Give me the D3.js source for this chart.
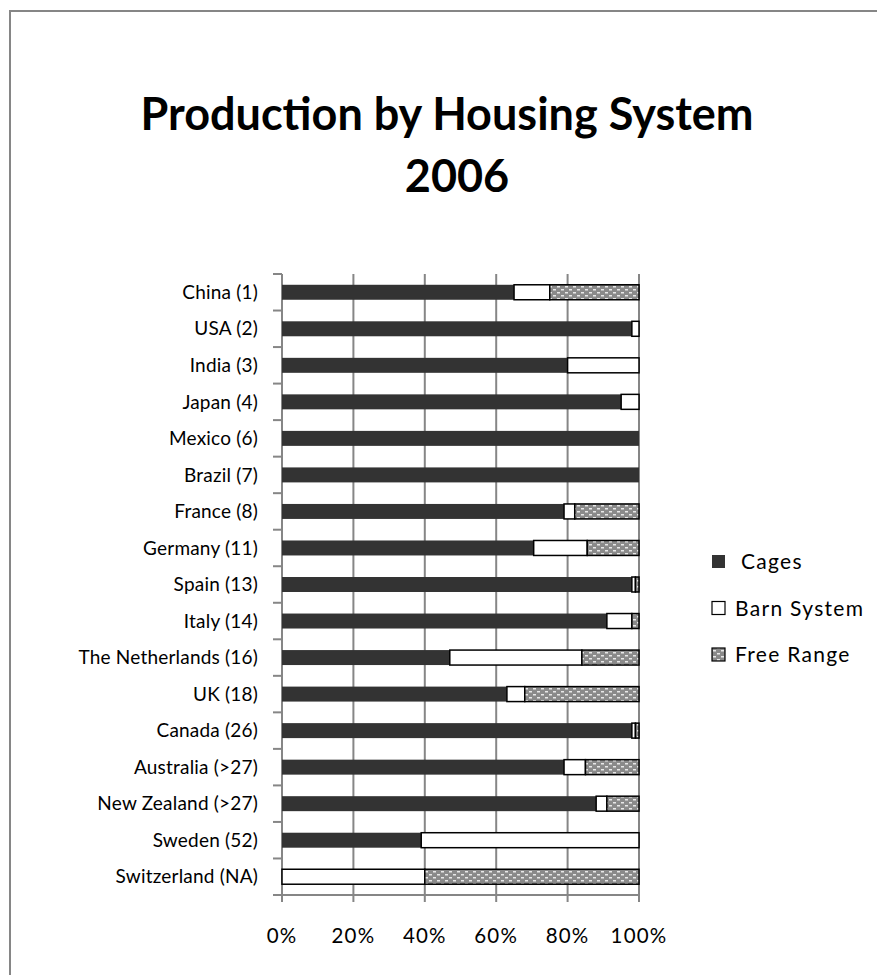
<!DOCTYPE html>
<html>
<head>
<meta charset="utf-8">
<script src="https://cdn.jsdelivr.net/npm/d3@7"></script>
<style>
  body { margin: 0; background: #fff; }
  svg { display: block; font-family: Lato, "Open Sans", sans-serif; }
  .cat { font-size: 19px; letter-spacing: 0.2px; }
  .tick { font-size: 20.5px; letter-spacing: 1.2px; }
  .leg { font-size: 21px; letter-spacing: 1.3px; }
</style>
</head>
<body>
<svg id="chart" width="877" height="975"></svg>
<script>
// data (percent of production)
var countries = ["China (1)", "USA (2)", "India (3)", "Japan (4)", "Mexico (6)", "Brazil (7)",
  "France (8)", "Germany (11)", "Spain (13)", "Italy (14)", "The Netherlands (16)", "UK (18)",
  "Canada (26)", "Australia (>27)", "New Zealand (>27)", "Sweden (52)", "Switzerland (NA)"];
var cages     = [65, 98, 80, 95, 100, 100, 79, 70.5, 98, 91, 47, 63, 98, 79, 88, 39, 0];
var barn      = [10, 2, 20, 5, 0, 0, 3, 15, 1, 7, 37, 5, 1, 6, 3, 61, 40];
var freeRange = [25, 0, 0, 0, 0, 0, 18, 14.5, 1, 2, 16, 32, 1, 15, 9, 0, 60];
var seriesNames = ["Cages", "Barn System", "Free Range"];
var xTicks = [0, 0.2, 0.4, 0.6, 0.8, 1];

var svg = d3.select("#chart");

// free range hatch pattern
var defs = svg.append("defs");
var pat = defs.append("pattern").attr("id", "dots")
  .attr("patternUnits", "userSpaceOnUse").attr("width", 8).attr("height", 6);
pat.append("rect").attr("width", 8).attr("height", 6).attr("fill", "#8a8a8a");
pat.append("rect").attr("x", 1).attr("y", 1).attr("width", 3).attr("height", 1.5).attr("fill", "#e8e8e8");
pat.append("rect").attr("x", 5).attr("y", 4).attr("width", 3).attr("height", 1.5).attr("fill", "#e8e8e8");

// outer chart border (only left/top visible)
svg.append("rect").attr("x", 10).attr("y", 11).attr("width", 1000).attr("height", 1100)
  .attr("fill", "none").attr("stroke", "#868686").attr("stroke-width", 2);

// title
svg.append("text").attr("x", 447).attr("y", 130).attr("text-anchor", "middle")
  .attr("font-size", 45).attr("font-weight", "bold").text("Production by Housing System");
svg.append("text").attr("x", 457).attr("y", 192).attr("text-anchor", "middle")
  .attr("font-size", 45).attr("font-weight", "bold").text("2006");

var pLeft = 282, pRight = 639, pTop = 274, pBottom = 895;

var x = d3.scaleLinear().domain([0, 1]).range([pLeft, pRight]);
var y = d3.scaleBand().domain(countries).range([pTop, pBottom]).paddingInner(0.59).paddingOuter(0.295);

// gridlines
svg.append("g").selectAll("line").data(xTicks).enter().append("line")
  .attr("x1", function(d) { return x(d); }).attr("x2", function(d) { return x(d); })
  .attr("y1", pTop).attr("y2", pBottom + 7)
  .attr("stroke", "#868686").attr("stroke-width", 2);

// x axis line + labels
svg.append("line").attr("x1", pLeft - 9).attr("x2", pRight).attr("y1", pBottom).attr("y2", pBottom)
  .attr("stroke", "#868686").attr("stroke-width", 2);
svg.append("g").selectAll("text").data(xTicks).enter().append("text")
  .attr("class", "tick")
  .attr("x", function(d) { return x(d); }).attr("y", 943)
  .attr("text-anchor", "middle")
  .text(function(d) { return d3.format(".0%")(d); });

// category axis ticks (between bands)
var step = y.step();
svg.append("g").selectAll("line").data(d3.range(countries.length + 1)).enter().append("line")
  .attr("x1", pLeft - 9).attr("x2", pLeft)
  .attr("y1", function(i) { return pTop + i * step; }).attr("y2", function(i) { return pTop + i * step; })
  .attr("stroke", "#868686").attr("stroke-width", 2);

svg.append("g").selectAll("text").data(countries).enter().append("text")
  .attr("class", "cat")
  .attr("x", 258).attr("y", function(d) { return y(d) + y.bandwidth() / 2; })
  .attr("dy", "0.35em").attr("text-anchor", "end")
  .text(function(d) { return d; });

// stacked bars
var rows = countries.map(function(c, i) {
  return { country: c, "Cages": cages[i] / 100, "Barn System": barn[i] / 100, "Free Range": freeRange[i] / 100 };
});
var stacked = d3.stack().keys(seriesNames)(rows);
var fills = { "Cages": "#333333", "Barn System": "#ffffff", "Free Range": "url(#dots)" };

svg.append("g").selectAll("g").data(stacked).enter().append("g")
  .attr("fill", function(s) { return fills[s.key]; })
  .attr("stroke", function(s) { return s.key === "Cages" ? "none" : "#000"; })
  .attr("stroke-width", 1.5)
  .selectAll("rect")
  .data(function(s) { return s.filter(function(d) { return d[1] - d[0] > 0; }); })
  .enter().append("rect")
  .attr("x", function(d) { return x(d[0]); })
  .attr("y", function(d) { return y(d.data.country); })
  .attr("width", function(d) { return x(d[1]) - x(d[0]); })
  .attr("height", y.bandwidth());

// legend
var legend = svg.append("g").selectAll("g").data(seriesNames).enter().append("g")
  .attr("transform", function(d, i) { return "translate(712," + (562 + i * 46.5) + ")"; });
legend.append("rect").attr("x", 0).attr("y", -7).attr("width", 13).attr("height", 13)
  .attr("fill", function(d) { return fills[d]; })
  .attr("stroke", function(d) { return d === "Cages" ? "none" : "#000"; })
  .attr("stroke-width", 1.2);
legend.append("text").attr("class", "leg")
  .attr("x", function(d, i) { return i === 0 ? 29 : 23; }).attr("y", 0)
  .attr("dy", "0.35em").text(function(d) { return d; });
</script>
</body>
</html>
